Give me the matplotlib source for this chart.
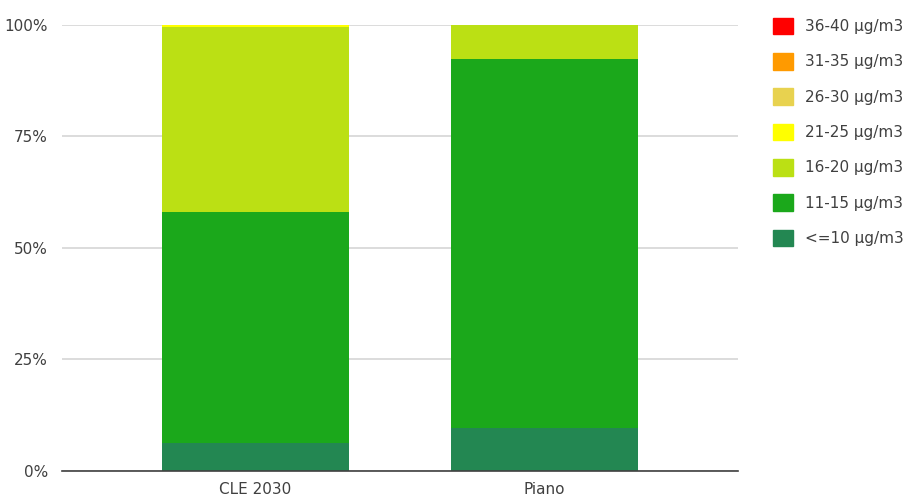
import matplotlib.pyplot as plt
import matplotlib.patches as mpatches
import numpy as np

scenarios = ["CLE 2030", "Piano"]
bins = ["<=10 µg/m3", "11-15 µg/m3", "16-20 µg/m3", "21-25 µg/m3",
        "26-30 µg/m3", "31-35 µg/m3", "36-40 µg/m3"]
le10 = [6.2, 9.5]
v11_15 = [51.8, 82.9]
v16_20 = [41.5, 7.6]
v21_25 = [0.5, 0.0]
v26_30 = [0.0, 0.0]
v31_35 = [0.0, 0.0]
v36_40 = [0.0, 0.0]
colors = ["#238752", "#1ba81b", "#bbe014", "#ffff00", "#e8d24f", "#ff9a00", "#ff0000"]

series = [le10, v11_15, v16_20, v21_25, v26_30, v31_35, v36_40]

fig = plt.figure(figsize=(9.09, 4.98), dpi=100)
ax = fig.add_axes([62 / 909, 27.5 / 498, 676 / 909, 445.5 / 498])

x = np.arange(len(scenarios))
bottom = np.zeros(len(scenarios))
for vals, col in zip(series, colors):
    ax.bar(x, vals, width=0.647, bottom=bottom, color=col, linewidth=0, zorder=3)
    bottom += np.array(vals)

ax.set_xlim(-0.67, 1.67)
ax.set_ylim(0, 100)
ax.set_yticks([0, 25, 50, 75, 100])
ax.set_yticklabels(["0%", "25%", "50%", "75%", "100%"])
ax.set_xticks(x)
ax.set_xticklabels(scenarios)
ax.tick_params(length=0, labelsize=11, colors="#404040", pad=8)
ax.tick_params(axis="y", pad=10)
ax.yaxis.grid(True, color="#d9d9d9", linewidth=1.3, zorder=0)
for s in ["top", "right", "left"]:
    ax.spines[s].set_visible(False)
ax.spines["bottom"].set_color("#404040")
ax.spines["bottom"].set_linewidth(1.2)
ax.spines["bottom"].set_zorder(4)

handles = [mpatches.Patch(color=c, label=b) for c, b in zip(colors, bins)][::-1]
fig.legend(handles=handles, loc="upper left", bbox_to_anchor=(759 / 909, 1 - 4 / 498),
           frameon=False, fontsize=11, handlelength=1.3, handleheight=1.3,
           labelspacing=1.22, handletextpad=0.8, labelcolor="#404040")

plt.savefig("out.png")
